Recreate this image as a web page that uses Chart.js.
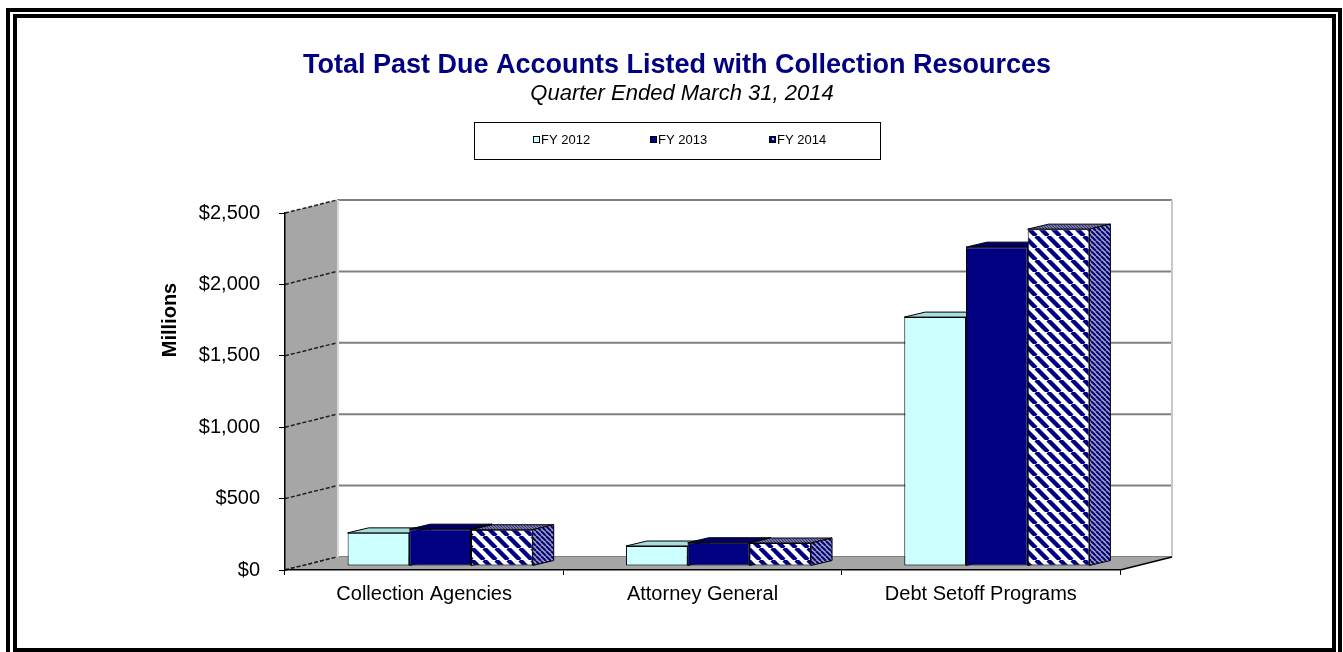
<!DOCTYPE html>
<html><head><meta charset="utf-8">
<script src="https://cdn.jsdelivr.net/npm/chart.js@4.4.1/dist/chart.umd.min.js"></script>
<style>html,body{margin:0;padding:0;background:#fff;overflow:hidden}#wrap{width:1343px;height:652px;position:relative}canvas{display:block}</style>
</head><body><div id="wrap"><canvas id="c" width="1343" height="652"></canvas></div>
<script>
// ---- data ----
const categories = ['Collection Agencies', 'Attorney General', 'Debt Setoff Programs'];
const seriesLabels = ['FY 2012', 'FY 2013', 'FY 2014'];
const fy2012 = [232, 140, 1743];
const fy2013 = [258, 163, 2233];
const fy2014 = [254, 161, 2359];
const yTickMin = 0, yTickMax = 2500, yTickStep = 500;
const titleText = 'Total Past Due Accounts Listed with Collection Resources';
const subtitleText = 'Quarter Ended March 31, 2014';
const yAxisTitle = 'Millions';

// ---- styles ----
const FONT = "'Liberation Sans', Arial, sans-serif";
Chart.defaults.font.family = FONT;
Chart.defaults.color = '#000';

function stripePattern(fg, bg, p, lw) {
  const c = document.createElement('canvas'); c.width = p; c.height = p;
  const g = c.getContext('2d');
  g.fillStyle = bg; g.fillRect(0, 0, p, p);
  g.strokeStyle = fg; g.lineWidth = lw; g.beginPath();
  for (const k of [-p, 0, p]) { g.moveTo(k, 0); g.lineTo(k + p, p); }
  g.stroke();
  return g.createPattern(c, 'repeat');
}
const frontStripes = stripePattern('#000080', '#ffffff', 12, 4.4);
const sideStripes = stripePattern('#000080', '#a0a0b8', 5, 2);
const topDots = stripePattern('#303080', '#9090b0', 3, 1.2);

const seriesStyle = [
  { front: '#ccffff', top: '#a6dede', side: '#8cbcbc', legend: '#ccffff' },
  { front: '#000080', top: '#000066', side: '#000050', legend: '#000080' },
  { front: frontStripes, top: topDots, side: sideStripes, legend: '#000080' }
];

// 3D geometry
const WALL_DX = 52, WALL_DY = -13;   // depth of the plot box
const BAR_OX = 16, BAR_OY = -4;      // bars placed a bit behind the front plane
const BAR_DX = 21, BAR_DY = -5;      // bar depth

const scene = {
  id: 'scene3d',
  beforeDraw(chart) {
    const ctx = chart.ctx, ca = chart.chartArea, ys = chart.scales.y;
    const W = chart.width, H = chart.height;
    ctx.save();
    ctx.fillStyle = '#fff'; ctx.fillRect(0, 0, W, H);
    // double frame
    ctx.strokeStyle = '#000';
    ctx.lineWidth = 4; ctx.strokeRect(8, 10, 1332, 700);
    ctx.lineWidth = 4; ctx.strokeRect(15, 16, 1319, 634);

    // title & subtitle
    ctx.textAlign = 'center'; ctx.textBaseline = 'alphabetic';
    ctx.fillStyle = '#000080'; ctx.font = 'bold 27px ' + FONT;
    ctx.fillText(titleText, 677, 73);
    ctx.fillStyle = '#000'; ctx.font = 'italic 22px ' + FONT;
    ctx.fillText(subtitleText, 682, 100);

    // legend box
    ctx.lineWidth = 1; ctx.strokeStyle = '#000';
    ctx.strokeRect(474.5, 122.5, 406, 37);
    const lx = [533, 650, 769];
    ctx.font = '13px ' + FONT; ctx.textAlign = 'left'; ctx.textBaseline = 'middle';
    chart.data.datasets.forEach((ds, i) => {
      ctx.fillStyle = seriesStyle[i].legend;
      ctx.fillRect(lx[i], 136, 7, 7);
      ctx.strokeStyle = '#000'; ctx.strokeRect(lx[i] + 0.5, 136.5, 6, 6);
      if (i === 2) { ctx.fillStyle = '#c0c0ff'; ctx.fillRect(lx[i] + 3, 138, 2, 2); }
      ctx.fillStyle = '#000';
      ctx.fillText(ds.label, lx[i] + 8, 140);
    });

    // y axis title
    ctx.save();
    ctx.translate(170, 320); ctx.rotate(-Math.PI / 2);
    ctx.font = 'bold 20px ' + FONT; ctx.textAlign = 'center'; ctx.textBaseline = 'middle';
    ctx.fillText(yAxisTitle, 0, 0);
    ctx.restore();

    const L = ca.left, R = ca.right, T = ca.top, B = ca.bottom;
    // back wall
    ctx.fillStyle = '#fff';
    ctx.fillRect(L + WALL_DX, T + WALL_DY, R - L, B - T);
    // back wall gridlines
    ctx.strokeStyle = '#808080'; ctx.lineWidth = 2;
    ys.ticks.forEach(t => {
      const yy = ys.getPixelForValue(t.value) + WALL_DY;
      ctx.beginPath(); ctx.moveTo(L + WALL_DX, yy); ctx.lineTo(R + WALL_DX, yy); ctx.stroke();
    });
    ctx.strokeStyle = '#c8c8c8'; ctx.lineWidth = 2;
    ctx.beginPath(); ctx.moveTo(R + WALL_DX, T + WALL_DY); ctx.lineTo(R + WALL_DX, B + WALL_DY); ctx.stroke();
    // left side wall
    ctx.fillStyle = '#a6a6a6';
    ctx.beginPath(); ctx.moveTo(L, T); ctx.lineTo(L + WALL_DX, T + WALL_DY);
    ctx.lineTo(L + WALL_DX, B + WALL_DY); ctx.lineTo(L, B); ctx.closePath(); ctx.fill();
    ctx.strokeStyle = '#d8d8d8'; ctx.lineWidth = 2;
    ctx.beginPath(); ctx.moveTo(L + WALL_DX + 1, T + WALL_DY); ctx.lineTo(L + WALL_DX + 1, B + WALL_DY); ctx.stroke();
    ctx.strokeStyle = '#202020'; ctx.lineWidth = 1.5; ctx.setLineDash([4, 2]);
    ys.ticks.forEach(t => {
      const yy = ys.getPixelForValue(t.value);
      ctx.beginPath(); ctx.moveTo(L, yy); ctx.lineTo(L + WALL_DX, yy + WALL_DY); ctx.stroke();
    });
    ctx.setLineDash([]);
    // floor
    ctx.fillStyle = '#a6a6a6';
    ctx.beginPath(); ctx.moveTo(L, B); ctx.lineTo(R, B); ctx.lineTo(R + WALL_DX, B + WALL_DY);
    ctx.lineTo(L + WALL_DX, B + WALL_DY); ctx.closePath(); ctx.fill();
    ctx.strokeStyle = '#202020'; ctx.lineWidth = 1.5; ctx.setLineDash([4, 2]);
    ctx.beginPath(); ctx.moveTo(L, B); ctx.lineTo(L + WALL_DX, B + WALL_DY); ctx.stroke();
    ctx.setLineDash([]);
    ctx.strokeStyle = '#000'; ctx.lineWidth = 1.5;
    ctx.beginPath(); ctx.moveTo(R, B); ctx.lineTo(R + WALL_DX, B + WALL_DY); ctx.stroke();
    ctx.restore();
  },
  beforeDatasetsDraw(chart) {
    const ctx = chart.ctx;
    chart.data.datasets.forEach((ds, i) => {
      const meta = chart.getDatasetMeta(i);
      const st = seriesStyle[i];
      ctx.save();
      ctx.translate(BAR_OX, BAR_OY);
      meta.controller.draw();
      ctx.lineWidth = 1; ctx.strokeStyle = '#000'; ctx.lineJoin = 'round';
      meta.data.forEach(bar => {
        const p = bar.getProps(['x', 'y', 'base', 'width'], true);
        const l = p.x - p.width / 2, r = p.x + p.width / 2, t = p.y, b = p.base;
        // top face
        ctx.fillStyle = st.top;
        ctx.beginPath(); ctx.moveTo(l, t); ctx.lineTo(l + BAR_DX, t + BAR_DY);
        ctx.lineTo(r + BAR_DX, t + BAR_DY); ctx.lineTo(r, t); ctx.closePath(); ctx.fill(); ctx.stroke();
        // right side face
        ctx.fillStyle = st.side;
        ctx.beginPath(); ctx.moveTo(r, t); ctx.lineTo(r + BAR_DX, t + BAR_DY);
        ctx.lineTo(r + BAR_DX, b + BAR_DY); ctx.lineTo(r, b); ctx.closePath(); ctx.fill(); ctx.stroke();
      });
      ctx.restore();
    });
    return false;
  }
};

const datasetsData = [fy2012, fy2013, fy2014];
new Chart(document.getElementById('c'), {
  type: 'bar',
  data: {
    labels: categories,
    datasets: datasetsData.map((d, i) => ({
      label: seriesLabels[i],
      data: d,
      backgroundColor: seriesStyle[i].front,
      borderColor: '#000',
      borderWidth: 1,
      borderSkipped: false,
      categoryPercentage: 0.665,
      barPercentage: 1.0
    }))
  },
  options: {
    responsive: false,
    animation: false,
    devicePixelRatio: 1,
    layout: { padding: { top: 213, left: 150, right: 223, bottom: 30 } },
    plugins: { legend: { display: false }, title: { display: false }, tooltip: { enabled: false } },
    scales: {
      x: {
        grid: { drawOnChartArea: false, drawTicks: true, tickLength: 5, color: '#000', offset: true },
        border: { display: true, color: '#000', width: 1.5 },
        ticks: { font: { size: 20 }, color: '#000', padding: 7, maxRotation: 0 },
        afterFit: s => { s.height = 52; }
      },
      y: {
        min: yTickMin, max: yTickMax,
        grid: { drawOnChartArea: false, drawTicks: true, tickLength: 6, color: '#000' },
        border: { display: true, color: '#000', width: 1.5 },
        ticks: {
          stepSize: yTickStep, font: { size: 20 }, color: '#000', padding: 19,
          callback: v => '$' + v.toLocaleString('en-US')
        },
        afterFit: s => { s.width = 135; }
      }
    }
  },
  plugins: [scene]
});
</script>
</body></html>
